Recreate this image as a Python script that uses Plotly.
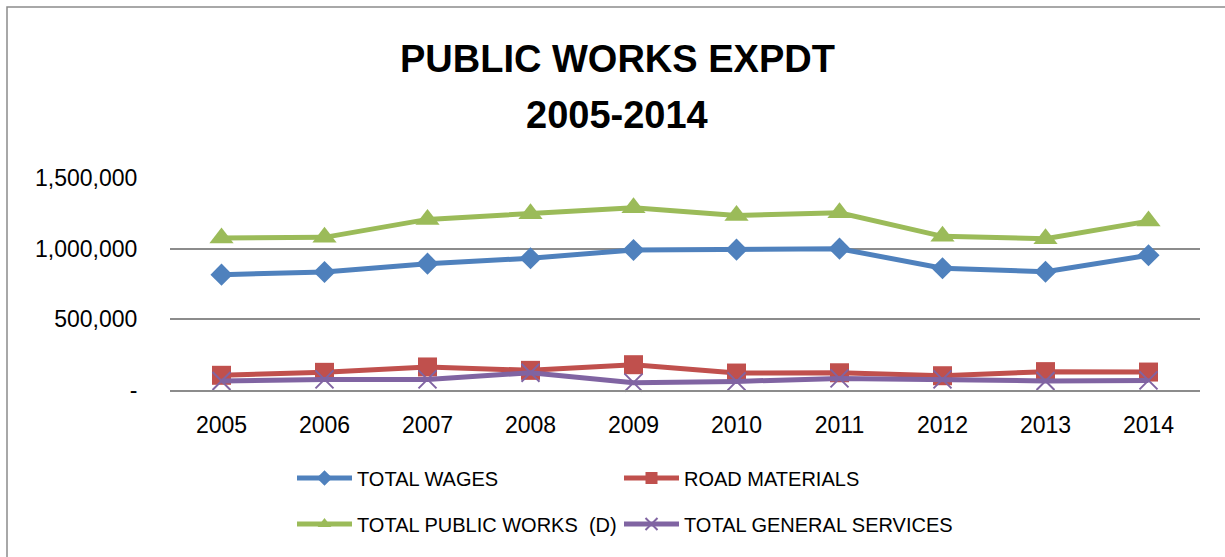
import plotly.graph_objects as go

# Public works expenditure by year
years = ["2005", "2006", "2007", "2008", "2009", "2010", "2011", "2012", "2013", "2014"]
total_wages = [816000, 835000, 894000, 932000, 991000, 993000, 1000000, 861000, 837000, 953000]
road_materials = [104000, 125000, 163000, 139000, 179000, 120000, 122000, 101000, 130000, 127000]
total_public_works = [1075000, 1080000, 1207000, 1247000, 1290000, 1235000, 1254000, 1087000, 1071000, 1195000]
total_general_services = [64000, 75000, 75000, 122000, 52000, 61000, 82000, 75000, 64000, 68000]

y_tickvals = [0, 500000, 1000000, 1500000]
y_ticktext = ["-", "500,000", "1,000,000", "1,500,000"]

W, H = 1225, 557
L, R, T, B = 170, 25, 178, 167
PW, PH = W - L - R, H - T - B

FONT = "Liberation Sans, Arial, sans-serif"


def px_x(x):
    return (x - L) / PW


def px_y(y):
    return (H - B - y) / PH


# name, values, colour, marker, legend row, legend entry width
series = [
    ("TOTAL WAGES", total_wages, "#4F81BD", dict(symbol="diamond", size=17), "legend", 257),
    ("ROAD MATERIALS", road_materials, "#C0504D", dict(symbol="square", size=19), "legend", 320),
    ("TOTAL PUBLIC WORKS  (D)", total_public_works, "#9BBB59",
     dict(symbol="triangle-up", size=21), "legend2", 257),
    ("TOTAL GENERAL SERVICES", total_general_services, "#8064A2",
     dict(symbol="x-thin", size=18), "legend2", 320),
]

fig = go.Figure()
for name, vals, color, marker, leg, lw in series:
    mk = dict(color=color, **marker)
    if marker["symbol"] == "x-thin":
        mk["line"] = dict(color=color, width=2)
    fig.add_trace(go.Scatter(
        x=years, y=vals, name=name, mode="lines+markers",
        line=dict(color=color, width=5), marker=mk,
        cliponaxis=False, legend=leg, legendwidth=lw,
    ))

legend_common = dict(
    orientation="h", xref="container", yref="container",
    xanchor="left", yanchor="middle",
    font=dict(family=FONT, size=20, color="#000000"),
    itemwidth=55, itemsizing="constant",
    bgcolor="rgba(0,0,0,0)", borderwidth=0, traceorder="normal",
)

fig.update_layout(
    width=W, height=H,
    margin=dict(l=L, r=R, t=T, b=B, pad=0),
    paper_bgcolor="white", plot_bgcolor="white",
    showlegend=True,
    legend=dict(x=292 / W, y=1 - 478 / H, **legend_common),
    legend2=dict(x=292 / W, y=1 - 524 / H, **legend_common),
    xaxis=dict(
        type="category", range=[-0.5, 9.5],
        showgrid=False, showline=True, linecolor="#8C8C8C", linewidth=2,
        ticks="outside", ticklen=13, tickcolor="rgba(0,0,0,0)",
        tickfont=dict(family=FONT, size=23, color="#000000"),
    ),
    yaxis=dict(
        range=[0, 1500000], tickvals=y_tickvals, ticktext=y_ticktext,
        showgrid=True, gridcolor="#8C8C8C", gridwidth=2, zeroline=False,
        showline=False,
        ticks="outside", ticklen=27, tickcolor="rgba(0,0,0,0)",
        tickfont=dict(family=FONT, size=23, color="#000000"),
    ),
    shapes=[dict(
        type="rect", xref="paper", yref="paper",
        x0=px_x(7), x1=px_x(W + 20), y0=px_y(H + 20), y1=px_y(7),
        line=dict(color="#8C8C8C", width=1.5), fillcolor="rgba(0,0,0,0)", layer="below",
    )],
    annotations=[
        dict(text="<b>PUBLIC WORKS EXPDT</b>", xref="paper", yref="paper",
             x=px_x(617), y=px_y(59), xanchor="center", yanchor="middle",
             showarrow=False, font=dict(family=FONT, size=38, color="#000000")),
        dict(text="<b>2005-2014</b>", xref="paper", yref="paper",
             x=px_x(617), y=px_y(115), xanchor="center", yanchor="middle",
             showarrow=False, font=dict(family=FONT, size=38, color="#000000")),
    ],
)

fig.write_html("out.html")
